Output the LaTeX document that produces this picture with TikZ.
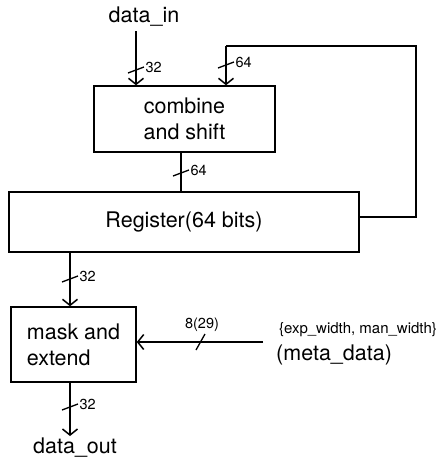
\documentclass[tikz,border=0pt]{standalone}
\usepackage{fontspec}
\setmainfont{TeX Gyre Heros}
\usetikzlibrary{arrows.meta}

\tikzset{
  blk/.style={draw, line width=1.5pt, inner sep=0pt, align=center,
    font=\fontsize{21.5}{26}\selectfont},
  wire/.style={line width=1.5pt},
  arr/.style={wire, -{Straight Barb[length=6pt,width=15pt]}},
  slash/.style={line width=1.3pt},
  buslbl/.style={font=\fontsize{14.5}{14.5}\selectfont, inner sep=1pt},
  txt/.style={font=\fontsize{21.5}{21.5}\selectfont, inner sep=0pt},
}

\begin{document}
\begin{tikzpicture}[x=1pt,y=-1pt]
	\useasboundingbox (0,0) rectangle (440,459);

	% blocks
	\node[blk, minimum width=181pt, minimum height=66pt] (comb) at (184.5,119) {combine\\and shift};
	\node[blk, minimum width=350pt, minimum height=60pt] (reg) at (184,222) {Register(64 bits)};
	\node[blk, minimum width=125pt, minimum height=75pt, align=left] (mask) at (73.5,344.5) {mask and\\extend};

	% texts
	\node[txt] (din) at (144,17) {data\_in};
	\node[txt] (dout) at (75,448) {data\_out};
	\node[font=\fontsize{15}{15}\selectfont, inner sep=0pt] (mw) at (358,330) {\{exp\_width, man\_width\}};
	\node[txt, anchor=west] (meta) at (276,355) {(meta\_data)};

	\coordinate (inA) at (136,31);
	\coordinate (fbR) at (416,217);
	\coordinate (fbL) at (226,46);
	\coordinate (cOut) at (181,152);
	\coordinate (rOut) at (70,252);
	\coordinate (mOut) at (70,382);
	\coordinate (oEnd) at (70,436);
	\coordinate (mIn) at (263,342);

	% data_in
	\draw[arr] (inA) -- (inA |- comb.north);
	\draw[slash] (128,73) -- (144,67) node[buslbl, anchor=west] {32};

	% feedback
	\draw[wire] (reg.east |- fbR) -- (fbR) |- (fbL);
	\draw[arr] (fbL) -- (fbL |- comb.north);
	\draw[slash] (218,68) -- (234,62) node[buslbl, anchor=west] {64};

	% combine to register
	\draw[wire] (cOut) -- (cOut |- reg.north);
	\draw[slash] (173,176) -- (189,170) node[buslbl, anchor=west] {64};

	% register to mask
	\draw[arr] (rOut) -- (rOut |- mask.north);
	\draw[slash] (62,282) -- (78,276) node[buslbl, anchor=west] {32};

	% mask to data_out
	\draw[arr] (mOut) -- (oEnd);
	\draw[slash] (62,410) -- (78,404) node[buslbl, anchor=west] {32};

	% meta data
	\draw[arr] (mIn) -- (mIn -| mask.east);
	\draw[slash] (196,350) -- (205,334);
	\node[buslbl] (w) at (202,325) {8(29)};
\end{tikzpicture}
\end{document}
